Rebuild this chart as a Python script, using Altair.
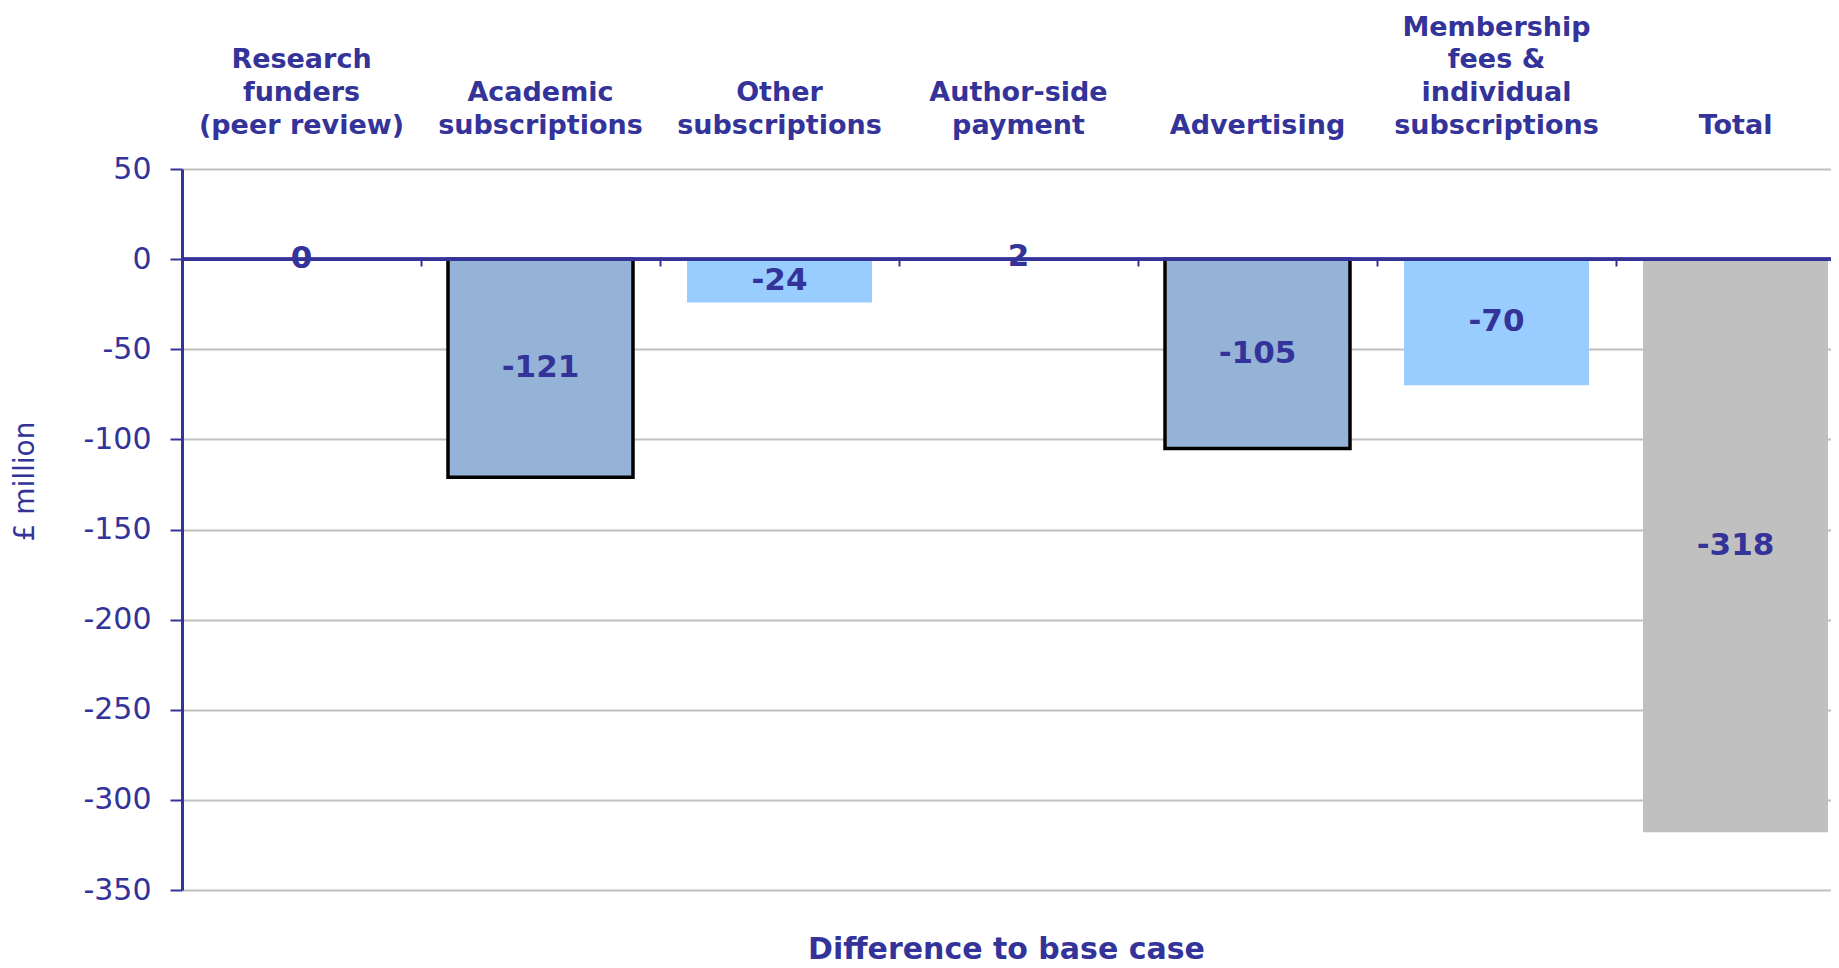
import altair as alt
import pandas as pd

categories = [
    "Research\nfunders\n(peer review)",
    "Academic\nsubscriptions",
    "Other\nsubscriptions",
    "Author-side\npayment",
    "Advertising",
    "Membership\nfees &\nindividual\nsubscriptions",
    "Total",
]
values = [0, -121, -24, 2, -105, -70, -318]
kinds = ["plain", "outlined", "light", "plain", "outlined", "light", "total"]
y_ticks = [50, 0, -50, -100, -150, -200, -250, -300, -350]

df = pd.DataFrame({"category": categories, "value": values, "kind": kinds})

# one row per line of each category name, counted from the bottom line
rows = []
for cat in categories:
    lines = cat.split("\n")
    for i, line in enumerate(lines):
        rows.append({"category": cat, "line": line, "k": len(lines) - 1 - i})
cat_df = pd.DataFrame(rows)

BLUE = "#333399"
FONT = "DejaVu Sans"

W, H = 1649, 721
BAND_RANGE = 1673
Y_DOMAIN = [-350, 50]

x_scale = alt.Scale(paddingInner=0, paddingOuter=0, range=[0, BAND_RANGE])

y_enc = alt.Y(
    "value:Q",
    scale=alt.Scale(domain=Y_DOMAIN, nice=False),
    axis=alt.Axis(
        orient="left", values=y_ticks, title="£ million",
        domainColor=BLUE, domainWidth=3,
        tickColor=BLUE, tickSize=12, tickWidth=2,
        labelFont=FONT, labelFontSize=30, labelColor=BLUE, labelPadding=19,
        labelExpr="'' + datum.value",
        grid=True, gridColor="#C0C0C0", gridWidth=2,
        titleFont=FONT, titleFontSize=28, titleFontWeight="normal", titleColor=BLUE,
        titleAngle=270, titleAlign="center", titleBaseline="middle",
        titleX=-157, titleY=312,
    ),
)

bars = alt.Chart(df).mark_bar(
    width=alt.RelativeBandSize(0.774), stroke="black", strokeWidth=3.5
).encode(
    x=alt.X("category:N", sort=categories, scale=x_scale, axis=None),
    y=y_enc,
    color=alt.Color(
        "kind:N",
        scale=alt.Scale(domain=["outlined", "light", "total", "plain"],
                        range=["#95B3D7", "#99CCFF", "#C0C0C0", "#FFFFFF"]),
        legend=None,
    ),
    strokeOpacity=alt.condition("datum.kind == 'outlined'", alt.value(1), alt.value(0)),
)

zero_line = alt.Chart(df).mark_rule(color=BLUE, strokeWidth=3).encode(
    y=alt.YDatum(0, scale=alt.Scale(domain=Y_DOMAIN, nice=False), axis=None)
)

value_labels = alt.Chart(df).transform_calculate(
    mid="datum.value / 2", label="'' + datum.value"
).mark_text(
    font=FONT, fontSize=31, fontWeight="bold", color=BLUE, baseline="middle", align="center"
).encode(
    x=alt.X(
        "category:N", sort=categories,
        axis=alt.Axis(
            orient="bottom", title=None, offset=-(H - 89), labels=False, domain=False, grid=False,
            ticks=True, tickBand="extent", tickColor=BLUE, tickWidth=2, tickSize=8,
        ),
    ),
    y=alt.Y("mid:Q", scale=alt.Scale(domain=Y_DOMAIN, nice=False), axis=None),
    text="label:N",
)

# category names above the plot, each line placed by its index from the bottom
cat_labels = alt.Chart(cat_df).mark_text(
    font=FONT, fontSize=27, fontWeight="bold", color=BLUE, baseline="middle", align="center"
).encode(
    x=alt.X("category:N", sort=categories, axis=None),
    y=alt.Y("k:Q", scale=alt.Scale(domain=[0, 3], range=[-43, -141.4], nice=False, zero=False), axis=None),
    text="line:N",
)

chart = alt.layer(bars, zero_line, value_labels, cat_labels).resolve_axis(
    x="independent", y="independent"
).resolve_scale(y="independent").properties(
    width=W, height=H,
    autosize=alt.AutoSizeParams(type="none"),
    padding={"left": 174, "top": 161, "right": 0, "bottom": 69},
    title=alt.TitleParams(
        "Difference to base case", orient="bottom", anchor="middle", frame="group",
        font=FONT, fontSize=30, fontWeight="bold", color=BLUE, offset=30, baseline="top",
    ),
).configure_view(stroke=None).configure(background="white")

chart.save("out.html", embed_options={"renderer": "svg", "actions": False})
